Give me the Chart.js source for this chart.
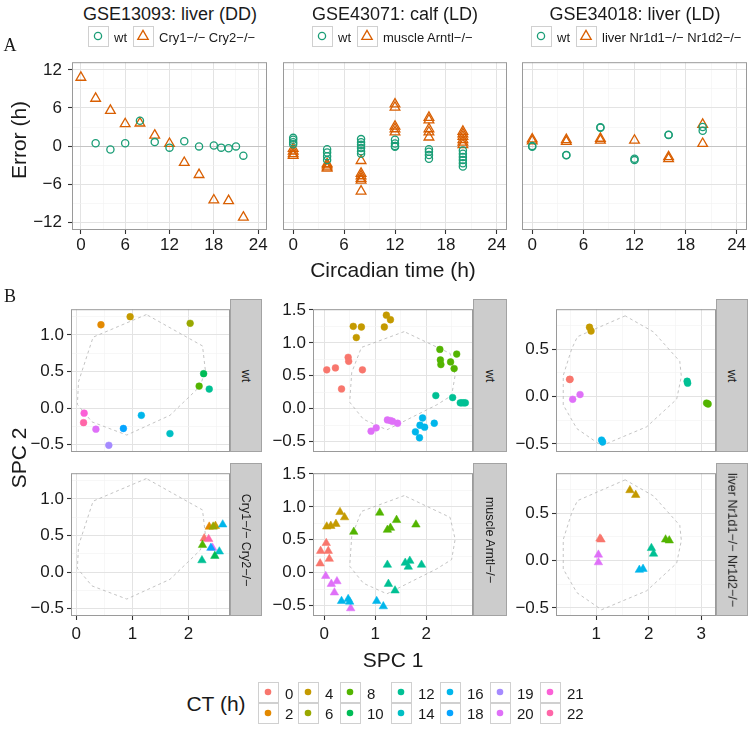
<!DOCTYPE html>
<html>
<head>
<meta charset="utf-8">
<script src="https://cdn.jsdelivr.net/npm/chart.js@4.4.1/dist/chart.umd.min.js"></script>
<style>
  body { margin: 0; width: 749px; height: 732px; position: relative; overflow: hidden; background: #fff;
         font-family: "Liberation Sans", Arial, Helvetica, sans-serif; color: #1a1a1a; }
  canvas { position: absolute; }
  .strip { position: absolute; box-sizing: border-box; background: #cccccc; border: 1px solid #a3a3a3; }
  .key { position: absolute; box-sizing: border-box; border: 1.5px solid #d0d0d0; background: #fff; }
</style>
</head>
<body>
<script>
// ---------- Panel A: prediction error (h) vs circadian time ----------
const aLevels = ["wt", "knockout"];
const aColors = ["#1B9E77", "#D95F02"];

const a1WtTime = [2, 4, 6, 8, 10, 12, 14, 16, 18, 19, 20, 21, 22];
const a1WtErr = [0.44, -0.53, 0.44, 4.0, 0.63, -0.24, 0.77, -0.05, 0.1, -0.24, -0.34, -0.05, -1.5];
const a1KoTime = [0, 2, 4, 6, 8, 10, 12, 14, 16, 18, 20, 22];
const a1KoErr = [10.8, 7.5, 5.6, 3.5, 3.6, 1.7, 0.4, -2.6, -4.5, -8.5, -8.6, -11.2];

const a2WtTime = [0, 0, 0, 0, 4, 4, 4, 4, 8, 8, 8, 8, 8, 8, 12, 12, 12, 12, 16, 16, 16, 16, 20, 20, 20, 20, 20, 20];
const a2WtErr = [1.3, 1.0, 0.6, 0.3, -0.5, -1.0, -1.6, -2.2, 1.1, 0.6, 0.2, -0.3, -0.8, -1.2,
                 1.0, 0.4, 0.0, -0.1, -0.5, -0.9, -1.4, -2.0, -0.7, -1.2, -1.7, -2.2, -2.7, -3.2];
const a2KoTime = [0, 0, 0, 0, 4, 4, 4, 4, 8, 8, 8, 8, 8, 8, 12, 12, 12, 12, 12, 16, 16, 16, 16, 16, 20, 20, 20, 20, 20, 20];
const a2KoErr = [-0.4, -0.8, -1.2, -1.5, -2.8, -3.0, -3.3, -3.5, -2.3, -4.3, -4.7, -5.1, -5.4, -7.1,
                 6.6, 6.1, 3.1, 2.7, 2.2, 4.5, 4.1, 2.7, 2.2, 1.4, 2.3, 1.9, 1.5, 1.0, 0.6, 0.2];

const a3WtTime = [0, 0, 4, 4, 8, 8, 12, 12, 16, 16, 20, 20];
const a3WtErr = [0.0, -0.1, -1.45, -1.4, 2.95, 2.9, -2.0, -2.2, 1.8, 1.75, 3.0, 2.4];
const a3KoTime = [0, 0, 4, 4, 8, 8, 12, 16, 16, 20, 20];
const a3KoErr = [1.1, 0.8, 1.0, 0.7, 1.2, 0.9, 0.9, -1.7, -2.0, 3.4, 0.4];

const aTimeTicks = [0, 6, 12, 18, 24];
const aTimeMinor = [3, 9, 15, 21];
const aErrTicks = [-12, -6, 0, 6, 12];
const aErrMinor = [-9, -3, 3, 9];

// ---------- Panel B: SPC 1 / SPC 2 coloured by CT ----------
const ctLevels = [0, 2, 4, 6, 8, 10, 12, 14, 16, 18, 19, 20, 21, 22];
const ctColors = ["#F8766D", "#E38900", "#C49A00", "#99A800", "#53B400", "#00BC56", "#00C094",
                  "#00BFC4", "#00B6EB", "#06A4FF", "#A58AFF", "#DF70F8", "#FB61D7", "#FF66A8"];

// GSE13093 liver
const b1WtCt = [2, 4, 6, 10, 8, 12, 16, 14, 18, 19, 20, 21, 22];
const b1WtX = [0.44, 0.96, 2.03, 2.27, 2.19, 2.37, 1.16, 1.67, 0.84, 0.58, 0.35, 0.14, 0.13];
const b1WtY = [1.14, 1.25, 1.16, 0.47, 0.30, 0.26, -0.10, -0.35, -0.28, -0.51, -0.29, -0.07, -0.20];
const b1KoCt = [2, 4, 6, 16, 0, 22, 8, 20, 18, 14, 10, 12];
const b1KoX = [2.37, 2.48, 2.44, 2.61, 2.28, 2.36, 2.25, 2.43, 2.40, 2.55, 2.47, 2.24];
const b1KoY = [0.62, 0.63, 0.62, 0.65, 0.46, 0.45, 0.37, 0.33, 0.33, 0.28, 0.22, 0.16];
const b1HullX = [1.25, 0.30, 0.04, 0.02, 0.28, 0.90, 1.67, 2.21, 2.30, 2.25];
const b1HullY = [1.28, 0.97, 0.36, 0.05, -0.19, -0.37, -0.10, 0.30, 0.52, 0.85];

// GSE43071 calf
const b2WtCt = [0, 0, 0, 0, 0, 0, 4, 4, 4, 4, 4, 4, 8, 8, 8, 8, 8, 8, 12, 12, 12, 12, 12, 12,
                16, 16, 16, 16, 16, 16, 20, 20, 20, 20, 20, 20];
const b2WtX = [0.05, 0.22, 0.47, 0.48, 0.75, 0.34, 0.57, 0.73, 0.63, 1.22, 1.30, 1.18,
               2.27, 2.28, 2.29, 2.48, 2.60, 2.55, 2.19, 2.52, 2.67, 2.77, 2.70, 2.74,
               1.93, 1.88, 1.97, 1.79, 1.87, 2.16, 1.24, 1.34, 1.44, 1.02, 0.92, 1.30];
const b2WtY = [0.59, 0.62, 0.78, 0.72, 0.59, 0.30, 1.25, 1.24, 1.08, 1.42, 1.35, 1.24,
               0.90, 0.74, 0.67, 0.71, 0.83, 0.61, 0.20, 0.17, 0.09, 0.09, 0.09, 0.09,
               -0.14, -0.25, -0.28, -0.35, -0.44, -0.22, -0.17, -0.19, -0.22, -0.29, -0.34, -0.18];
const b2KoCt = [4, 4, 4, 4, 4, 8, 8, 8, 8, 8, 8, 0, 0, 0, 0, 0, 12, 12, 12, 12, 12, 12, 12,
                20, 20, 20, 20, 20, 16, 16, 16, 16, 16];
const b2KoX = [0.05, 0.13, 0.23, 0.31, 0.40, 0.58, 1.09, 1.24, 1.30, 1.42, 1.80,
               0.04, -0.07, 0.08, 0.10, -0.08, 1.24, 1.59, 1.68, 1.65, 1.91, 1.26, 1.39,
               0.03, 0.14, 0.25, 0.20, 0.52, 0.34, 0.47, 0.50, 1.03, 1.16];
const b2KoY = [0.70, 0.71, 0.74, 0.92, 0.84, 0.62, 0.91, 0.65, 0.68, 0.80, 0.73,
               0.45, 0.33, 0.33, 0.21, 0.14, 0.12, 0.15, 0.18, 0.09, 0.12, -0.17, -0.27,
               -0.05, -0.17, -0.13, -0.30, -0.54, -0.43, -0.40, -0.44, -0.43, -0.51];
const b2HullX = [1.57, 0.73, 0.54, 0.50, 0.77, 1.23, 2.21, 2.50, 2.57, 2.47];
const b2HullY = [1.17, 0.93, 0.55, 0.10, -0.16, -0.32, 0.06, 0.20, 0.51, 0.84];

// GSE34018 liver
const b3WtCt = [4, 4, 0, 0, 20, 20, 12, 12, 8, 8, 16, 16];
const b3WtX = [0.87, 0.90, 0.49, 0.50, 0.69, 0.55, 2.73, 2.74, 3.10, 3.13, 1.10, 1.12];
const b3WtY = [0.73, 0.69, 0.18, 0.18, 0.02, -0.03, 0.16, 0.14, -0.07, -0.08, -0.46, -0.48];
const b3KoCt = [4, 4, 0, 0, 20, 20, 12, 12, 8, 8, 16, 16];
const b3KoX = [1.64, 1.75, 1.07, 1.09, 1.04, 1.04, 2.05, 2.09, 2.32, 2.39, 1.82, 1.89];
const b3KoY = [0.74, 0.69, 0.23, 0.22, 0.06, -0.02, 0.13, 0.07, 0.22, 0.21, -0.10, -0.09];
const b3HullX = [1.55, 0.64, 0.53, 0.37, 0.37, 0.63, 1.10, 1.96, 2.53, 2.62, 2.59, 2.09];
const b3HullY = [0.85, 0.63, 0.50, 0.22, -0.09, -0.34, -0.52, -0.32, -0.03, 0.21, 0.37, 0.68];

// ---------- helpers ----------
Chart.defaults.font.family = "'Liberation Sans', Arial, Helvetica, sans-serif";
Chart.defaults.color = "#1a1a1a";

const Y_W = 60, X_H = 34, PAD = 3;
const fmt = (v, dec) => (v < 0 ? "\u2212" : "") + Math.abs(v).toFixed(dec);
const colorOf = ct => ctColors[ctLevels.indexOf(ct)];
const pts = (xs, ys) => xs.map((x, i) => ({ x, y: ys[i] }));

function axisOpts(min, max, major, minor, dec, show, pad, zero, fit) {
    const isMajor = c => c.tick && major.includes(c.tick.value);
    return {
        type: "linear", min, max,
        afterBuildTicks: s => { s.ticks = major.concat(minor).sort((a, b) => a - b).map(v => ({ value: v })); },
        afterFit: fit,
        border: { display: false },
        grid: {
            color: c => (zero && c.tick && c.tick.value === 0) ? "#c4c4c4" : isMajor(c) ? "#e3e3e3" : "#f2f2f2",
            lineWidth: c => isMajor(c) ? 1 : 0.6,
            tickLength: 4,
            tickWidth: 1.1,
            tickColor: c => (show && isMajor(c)) ? "#333" : "rgba(0,0,0,0)",
        },
        ticks: {
            autoSkip: false, maxRotation: 0, padding: pad, font: { size: 17 }, color: "#1a1a1a",
            callback: v => (show && major.includes(v)) ? fmt(v, dec) : "",
        },
    };
}

// grey panel border drawn on top
const frame = {
    id: "frame",
    afterDraw(chart) {
        const a = chart.chartArea, c = chart.ctx;
        c.save();
        c.strokeStyle = "#9a9a9a";
        c.lineWidth = 1;
        c.strokeRect(a.left + 0.5, a.top + 0.5, a.right - a.left - 1, a.bottom - a.top - 1);
        c.restore();
    },
};

function makePanel(cfg) {
    const [l, t, r, b] = cfg.box;
    const cv = document.createElement("canvas");
    const w = r - l + Y_W + PAD, h = b - t + X_H + PAD;
    cv.width = w; cv.height = h;
    cv.style.cssText = `left:${l - Y_W}px;top:${t - PAD}px;width:${w}px;height:${h}px`;
    document.body.appendChild(cv);
    new Chart(cv, {
        type: "scatter",
        data: { datasets: cfg.datasets },
        options: {
            responsive: false, animation: false, events: [], devicePixelRatio: 1,
            layout: { padding: { left: 0, top: PAD, right: PAD, bottom: 0 }, autoPadding: false },
            plugins: { legend: { display: false }, tooltip: { enabled: false } },
            scales: {
                x: axisOpts(cfg.x[0], cfg.x[1], cfg.xMaj, cfg.xMin, cfg.xDec, cfg.showX, cfg.xPad, false, s => { s.height = X_H; }),
                y: axisOpts(cfg.y[0], cfg.y[1], cfg.yMaj, cfg.yMin, cfg.yDec, cfg.showY, cfg.yPad, cfg.zero, s => { s.width = Y_W; }),
            },
        },
        plugins: [frame],
    });
}

const openPts = (xs, ys, k) => ({
    data: pts(xs, ys), clip: false,
    pointStyle: k === 0 ? "circle" : "triangle",
    pointRadius: k === 0 ? 3.6 : 5.6,
    pointBorderWidth: 1.3,
    pointBorderColor: aColors[k],
    pointBackgroundColor: "rgba(0,0,0,0)",
});
const ctPts = (xs, ys, cts, style) => ({
    data: pts(xs, ys), order: 1,
    pointStyle: style,
    pointRadius: style === "circle" ? 3.4 : 4.9,
    pointBorderWidth: 0.5,
    pointBackgroundColor: cts.map(colorOf),
    pointBorderColor: cts.map(colorOf),
});
const hull = (xs, ys) => ({
    data: pts(xs.concat(xs[0]), ys.concat(ys[0])), order: 2,
    showLine: true, tension: 0, borderColor: "#b5b5b5", borderWidth: 0.8,
    borderDash: [3, 3], pointRadius: 0,
});

// ---------- Panel A charts ----------
const aBase = { x: [-1.2, 25.2], y: [-13.2, 13.2], xMaj: aTimeTicks, xMin: aTimeMinor, yMaj: aErrTicks,
                yMin: aErrMinor, xDec: 0, yDec: 0, showX: true, xPad: 1, yPad: 6, zero: true };
makePanel({ ...aBase, box: [72, 49, 267, 230], showY: true,
    datasets: [openPts(a1WtTime, a1WtErr, 0), openPts(a1KoTime, a1KoErr, 1)] });
makePanel({ ...aBase, box: [283, 49, 507, 230], showY: false,
    datasets: [openPts(a2WtTime, a2WtErr, 0), openPts(a2KoTime, a2KoErr, 1)] });
makePanel({ ...aBase, box: [522, 49, 747, 230], showY: false,
    datasets: [openPts(a3WtTime, a3WtErr, 0), openPts(a3KoTime, a3KoErr, 1)] });

// ---------- Panel B charts ----------
const rows = [[299, 452], [463, 616]];
const bCols = [
    { l: 71, r: 230, x: [-0.094, 2.74], y: [-0.602, 1.353], xMaj: [0, 1, 2], xMin: [0.5, 1.5, 2.5],
      yMaj: [-0.5, 0, 0.5, 1], yMin: [-0.25, 0.25, 0.75, 1.25],
      wt: [b1WtX, b1WtY, b1WtCt], ko: [b1KoX, b1KoY, b1KoCt], hull: [b1HullX, b1HullY] },
    { l: 313, r: 473, x: [-0.22, 2.92], y: [-0.656, 1.51], xMaj: [0, 1, 2], xMin: [0.5, 1.5, 2.5],
      yMaj: [-0.5, 0, 0.5, 1, 1.5], yMin: [-0.25, 0.25, 0.75, 1.25],
      wt: [b2WtX, b2WtY, b2WtCt], ko: [b2KoX, b2KoY, b2KoCt], hull: [b2HullX, b2HullY] },
    { l: 556, r: 716, x: [0.232, 3.28], y: [-0.586, 0.92], xMaj: [1, 2, 3], xMin: [0.5, 1.5, 2.5],
      yMaj: [-0.5, 0, 0.5], yMin: [-0.25, 0.25, 0.75],
      wt: [b3WtX, b3WtY, b3WtCt], ko: [b3KoX, b3KoY, b3KoCt], hull: [b3HullX, b3HullY] },
];
bCols.forEach(c => {
    rows.forEach(([t, b], ri) => {
        const s = ri === 0 ? c.wt : c.ko;
        makePanel({ box: [c.l, t, c.r, b], x: c.x, y: c.y, xMaj: c.xMaj, xMin: c.xMin, yMaj: c.yMaj, yMin: c.yMin,
            xDec: 0, yDec: 1, showX: ri === 1, showY: true, xPad: 4, yPad: 3, zero: false,
            datasets: [hull(c.hull[0], c.hull[1]), ctPts(s[0], s[1], s[2], ri === 0 ? "circle" : "triangle")] });
    });
});

// ---------- text, strips and legends ----------
function text(str, x, y, css, align, rot) {
    const d = document.createElement("div");
    d.textContent = str;
    const tx = align === "left" ? "0" : "-50%";
    d.style.cssText = `position:absolute;left:${x}px;top:${y}px;white-space:nowrap;line-height:1;` +
        `transform:translate(${tx},-50%)${rot ? ` rotate(${rot}deg)` : ""};${css || ""}`;
    document.body.appendChild(d);
    return d;
}

text("A", 10, 45, "font-family:'Liberation Serif',serif;font-size:18px");
text("B", 10, 296, "font-family:'Liberation Serif',serif;font-size:18px");

text("GSE13093: liver (DD)", 170, 14, "font-size:18px");
text("GSE43071: calf (LD)", 395, 14, "font-size:18px");
text("GSE34018: liver (LD)", 635, 14, "font-size:18px");

text("Error (h)", 18, 140, "font-size:21px", null, -90);
text("Circadian time (h)", 393, 269, "font-size:21px");
text("SPC 2", 18, 458, "font-size:21px", null, -90);
text("SPC 1", 393, 659, "font-size:21px");

// panel A legends
function keyBox(x, y, k) {
    const d = document.createElement("div");
    d.className = "key";
    d.style.cssText = `left:${x}px;top:${y}px;width:21px;height:21px`;
    d.innerHTML = k === 0
        ? `<svg width="18" height="18" style="display:block"><circle cx="9" cy="9" r="3.6" fill="none" stroke="${aColors[0]}" stroke-width="1.3"/></svg>`
        : `<svg width="18" height="18" style="display:block"><polygon points="9,3.4 14.2,12.4 3.8,12.4" fill="none" stroke="${aColors[1]}" stroke-width="1.3"/></svg>`;
    document.body.appendChild(d);
}
const aLegends = [
    [88, 133, "Cry1\u2212/\u2212 Cry2\u2212/\u2212"],
    [312, 357, "muscle Arntl\u2212/\u2212"],
    [531, 576, "liver Nr1d1\u2212/\u2212 Nr1d2\u2212/\u2212"],
];
aLegends.forEach(([x1, x2, name]) => {
    keyBox(x1, 26, 0);
    text(aLevels[0], x1 + 26, 37, "font-size:13px", "left");
    keyBox(x2, 26, 1);
    text(name, x2 + 26, 37, "font-size:13px", "left");
});

// facet strips
const stripCols = [[230, 262], [473, 507], [716, 748]];
const stripLabels = [["wt", "Cry1\u2212/\u2212 Cry2\u2212/\u2212"], ["wt", "muscle Arntl\u2212/\u2212"],
                     ["wt", "liver Nr1d1\u2212/\u2212 Nr1d2\u2212/\u2212"]];
stripCols.forEach(([sl, sr], ci) => {
    rows.forEach(([t, b], ri) => {
        const d = document.createElement("div");
        d.className = "strip";
        d.style.cssText = `left:${sl}px;top:${t}px;width:${sr - sl}px;height:${b - t}px`;
        document.body.appendChild(d);
        text(stripLabels[ci][ri], (sl + sr) / 2, (t + b) / 2, "font-size:12.5px", null, 90);
    });
});

// CT legend
text("CT (h)", 216, 703, "font-size:21px");
const ctKeyLeft = [258, 298, 340, 391, 440, 490, 540];
ctLevels.forEach((ct, i) => {
    const x = ctKeyLeft[Math.floor(i / 2)], y = 682 + (i % 2) * 20.5;
    const d = document.createElement("div");
    d.className = "key";
    d.style.cssText = `left:${x}px;top:${y}px;width:21px;height:21px`;
    d.innerHTML = `<svg width="18" height="18" style="display:block"><circle cx="9" cy="9" r="3.3" fill="${colorOf(ct)}"/></svg>`;
    document.body.appendChild(d);
    text(String(ct), x + 27, y + 10.5, "font-size:15px", "left");
});
</script>
</body>
</html>
